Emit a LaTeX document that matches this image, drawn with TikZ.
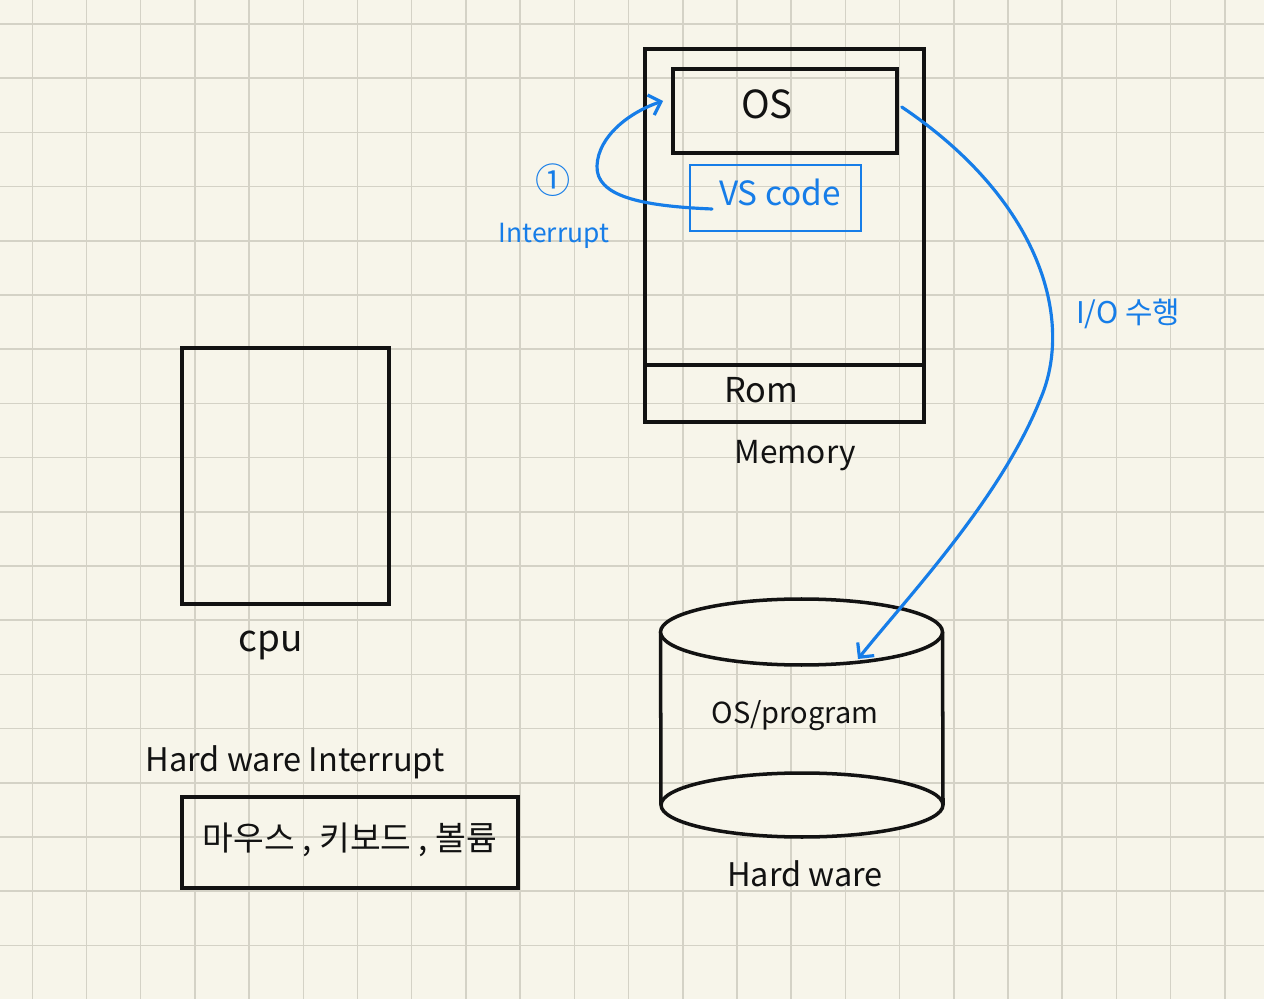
\documentclass[tikz,border=0pt]{standalone}
\usepackage{fontspec}
\setmainfont{Noto Sans CJK KR}
\usetikzlibrary{arrows.meta}
\definecolor{paper}{RGB}{247,245,234}
\definecolor{gridc}{RGB}{212,210,198}
\definecolor{pen}{RGB}{18,18,18}
\definecolor{bluepen}{RGB}{22,125,232}
\begin{document}
\begin{tikzpicture}[x=0.02cm,y=-0.02cm,
  box/.style={draw=pen, line width=2pt},
  bbox/.style={draw=bluepen, line width=1.6pt},
  lbl/.style={text=pen, inner sep=0pt},
  blbl/.style={text=bluepen, inner sep=0pt},
  bline/.style={draw=bluepen, line width=1.8pt, line cap=round,
                -{Straight Barb[length=6pt,width=12pt,line width=1.8pt]}}]
% background and grid
\fill[paper] (0,0) rectangle (1264,999);
\useasboundingbox (0,0) rectangle (1264,999);
\foreach \i in {0,...,22} \draw[gridc, line width=0.9pt] ({32.3+54.2*\i},0) -- ({32.3+54.2*\i},999);
\foreach \j in {0,...,18} \draw[gridc, line width=0.9pt] (0,{24+54.2*\j}) -- (1264,{24+54.2*\j});

% CPU
\node[box, minimum width=4.14cm, minimum height=5.12cm] (cpu) at (285.5,476) {};
\node[lbl, font=\fontsize{21}{24}\selectfont] (cpulbl) at (271,645) {cpu};

% hardware interrupt
\node[lbl, font=\fontsize{18.5}{22}\selectfont] (hwint) at (295,762) {Hard ware Interrupt};
\node[box, minimum width=6.72cm, minimum height=1.82cm] (devs) at (350,842.5) {};
\node[lbl, font=\fontsize{19}{22}\selectfont] (devlbl) at (350,840) {마우스 , 키보드 , 볼륨};

% memory
\node[box, minimum width=5.58cm, minimum height=7.46cm] (mem) at (784.5,235.5) {};
\draw[pen, line width=2pt] (mem.west |- 0,365) -- (mem.east |- 0,365);
\node[lbl, font=\fontsize{19.5}{22}\selectfont] (rom) at (761,390) {Rom};
\node[lbl, font=\fontsize{18}{22}\selectfont] (memlbl) at (795,456) {Memory};
\node[box, minimum width=4.48cm, minimum height=1.68cm] (os) at (785,111) {};
\node[lbl, font=\fontsize{22}{24}\selectfont] (oslbl) at (767,104) {OS};
\node[bbox, minimum width=3.42cm, minimum height=1.32cm] (vs) at (775.5,198) {};
\node[blbl, font=\fontsize{19}{22}\selectfont] (vslbl) at (780,192) {VS code};

% interrupt arrow
\coordinate (vsin) at (712,209);
\coordinate (ostip) at (663,101);
\draw[bline] (vsin) .. controls (640,206) and (596,196) .. (597,166)
  .. controls (598,136) and (630,112) .. (ostip);
\node[blbl, font=\fontsize{20}{22}\selectfont] (one) at (553,180) {①};
\node[blbl, font=\fontsize{15}{18}\selectfont] (intlbl) at (554,236) {Interrupt};

% hardware cylinder
\draw[pen, line width=2pt] (660.5,632) -- (661,805);
\draw[pen, line width=2pt] (942.5,632) -- (943,805);
\draw[pen, line width=2pt, fill=paper] (802,805) ellipse [x radius=2.82cm, y radius=0.64cm];
\draw[pen, line width=2pt, fill=paper] (801.5,632) ellipse [x radius=2.82cm, y radius=0.66cm];
\node[minimum width=5.64cm, minimum height=4.8cm] (hw) at (801.5,718) {};
\node[lbl, font=\fontsize{16.5}{20}\selectfont] (hwtext) at (795,716) {OS/program};
\node[lbl, font=\fontsize{18.5}{22}\selectfont] (hwlbl) at (805,874) {Hard ware};
\coordinate (hwtop) at (858,659);

% I/O arrow
\draw[bline] (os.east) ++(3,-4) coordinate (osout)
  .. controls (1040,200) and (1075,320) .. (1040,400)
  .. controls (1000,500) and (905,600) .. (hwtop);
\node[blbl, font=\fontsize{17}{20}\selectfont] (iolbl) at (1128,314) {I/O 수행};
\end{tikzpicture}
\end{document}
